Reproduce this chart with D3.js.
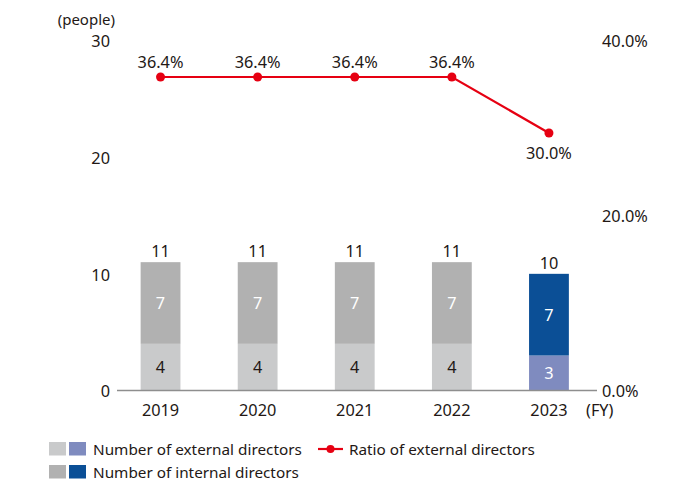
<!DOCTYPE html>
<html><head><meta charset="utf-8">
<script src="https://cdn.jsdelivr.net/npm/d3@7"></script>
<style>
html,body{margin:0;padding:0;background:#fff;}
svg text{font-family:"Noto Sans",sans-serif;fill:#231815;}
</style></head>
<body><svg id="c" width="691" height="482"></svg>
<script>
const years = ["2019","2020","2021","2022","2023"];
const externalDirectors = [4,4,4,4,3];
const internalDirectors = [7,7,7,7,7];
const ratioExternal = [36.4,36.4,36.4,36.4,30.0];
const leftTicks = [0,10,20,30];
const rightTicks = [0,20,40];

const colExt = ["#c9cacb","#c9cacb","#c9cacb","#c9cacb","#7f8bbf"];
const colInt = ["#b1b1b1","#b1b1b1","#b1b1b1","#b1b1b1","#0b4f96"];
const red = "#e60012";

const svg = d3.select("#c");
const x = d3.scaleBand().domain(years).range([111.5, 598]).paddingInner(0.59).paddingOuter(0.3);
const y = d3.scaleLinear().domain([0,30]).range([390.5, 40.5]);
const yR = d3.scaleLinear().domain([0,40]).range([390.5, 40.5]);
const fs = 16.3;

// left axis labels
svg.append("g").selectAll("text").data(leftTicks).join("text")
  .attr("x",110).attr("y",d=>y(d)+1).attr("dy","0.36em").attr("text-anchor","end")
  .attr("font-size",fs).text(d=>d);
svg.append("text").attr("x",115).attr("y",20).attr("dy","0.36em").attr("text-anchor","end")
  .attr("font-size",15).text("(people)");
// right axis labels
svg.append("g").selectAll("text").data(rightTicks).join("text")
  .attr("x",602).attr("y",d=>yR(d)+1).attr("dy","0.36em").attr("text-anchor","start")
  .attr("font-size",fs).text(d=>d.toFixed(1)+"%");

// bars
const data = years.map((yr,i)=>({yr,i,ext:externalDirectors[i],int:internalDirectors[i]}));
const g = svg.append("g");
g.selectAll("rect.ext").data(data).join("rect")
  .attr("x",d=>x(d.yr)).attr("width",x.bandwidth())
  .attr("y",d=>y(d.ext)).attr("height",d=>y(0)-y(d.ext)).attr("fill",d=>colExt[d.i]);
g.selectAll("rect.int").data(data).join("rect")
  .attr("x",d=>x(d.yr)).attr("width",x.bandwidth())
  .attr("y",d=>y(d.ext+d.int)).attr("height",d=>y(d.ext)-y(d.ext+d.int)).attr("fill",d=>colInt[d.i]);
// segment labels
g.selectAll("text.e").data(data).join("text")
  .attr("x",d=>x(d.yr)+x.bandwidth()/2).attr("y",d=>y(d.ext/2)).attr("dy","0.36em")
  .attr("text-anchor","middle").attr("font-size",fs)
  .style("fill",d=>d.i===4?"#fff":"#231815").text(d=>d.ext);
g.selectAll("text.i").data(data).join("text")
  .attr("x",d=>x(d.yr)+x.bandwidth()/2).attr("y",d=>y(d.ext+d.int/2)).attr("dy","0.36em")
  .attr("text-anchor","middle").attr("font-size",fs)
  .style("fill","#fff").text(d=>d.int);
g.selectAll("text.t").data(data).join("text")
  .attr("x",d=>x(d.yr)+x.bandwidth()/2).attr("y",d=>y(d.ext+d.int)-11).attr("dy","0.36em")
  .attr("text-anchor","middle").attr("font-size",fs).text(d=>d.ext+d.int);

// baseline
svg.append("line").attr("x1",117).attr("x2",597).attr("y1",y(0)).attr("y2",y(0))
  .attr("stroke","#8e8e8e").attr("stroke-width",1.3);
// x labels
svg.append("g").selectAll("text").data(years).join("text")
  .attr("x",d=>x(d)+x.bandwidth()/2).attr("y",410).attr("dy","0.36em")
  .attr("text-anchor","middle").attr("font-size",fs).text(d=>d);
svg.append("text").attr("x",586).attr("y",410).attr("dy","0.36em").attr("font-size",fs).text("(FY)");

// line
const lg = svg.append("g").attr("transform","translate(0,5)");
const pts = years.map((yr,i)=>({yr,i,v:ratioExternal[i]}));
lg.append("path").datum(pts)
  .attr("d",d3.line().x(d=>x(d.yr)+x.bandwidth()/2).y(d=>yR(d.v)))
  .attr("fill","none").attr("stroke",red).attr("stroke-width",2.2);
lg.selectAll("circle").data(pts).join("circle")
  .attr("cx",d=>x(d.yr)+x.bandwidth()/2).attr("cy",d=>yR(d.v)).attr("r",4.5).attr("fill",red);
lg.selectAll("text").data(pts).join("text")
  .attr("x",d=>x(d.yr)+x.bandwidth()/2).attr("y",d=>d.i===4?yR(d.v)+20:yR(d.v)-15).attr("dy","0.36em")
  .attr("text-anchor","middle").attr("font-size",fs).text(d=>d.v.toFixed(1)+"%");

// legend
const L = svg.append("g");
L.append("rect").attr("x",49).attr("y",442).attr("width",17).attr("height",13.5).attr("fill",colExt[0]);
L.append("rect").attr("x",69).attr("y",442).attr("width",17).attr("height",13.5).attr("fill",colExt[4]);
L.append("rect").attr("x",49).attr("y",465).attr("width",17).attr("height",13.5).attr("fill",colInt[0]);
L.append("rect").attr("x",69).attr("y",465).attr("width",17).attr("height",13.5).attr("fill",colInt[4]);
L.append("text").attr("x",93).attr("y",449).attr("dy","0.36em").attr("font-size",15.3).text("Number of external directors");
L.append("text").attr("x",93).attr("y",472).attr("dy","0.36em").attr("font-size",15.3).text("Number of internal directors");
L.append("line").attr("x1",318).attr("x2",343).attr("y1",449).attr("y2",449).attr("stroke",red).attr("stroke-width",2.2);
L.append("circle").attr("cx",330.5).attr("cy",449).attr("r",4).attr("fill",red);
L.append("text").attr("x",349).attr("y",449).attr("dy","0.36em").attr("font-size",15.3).text("Ratio of external directors");
</script></body></html>
